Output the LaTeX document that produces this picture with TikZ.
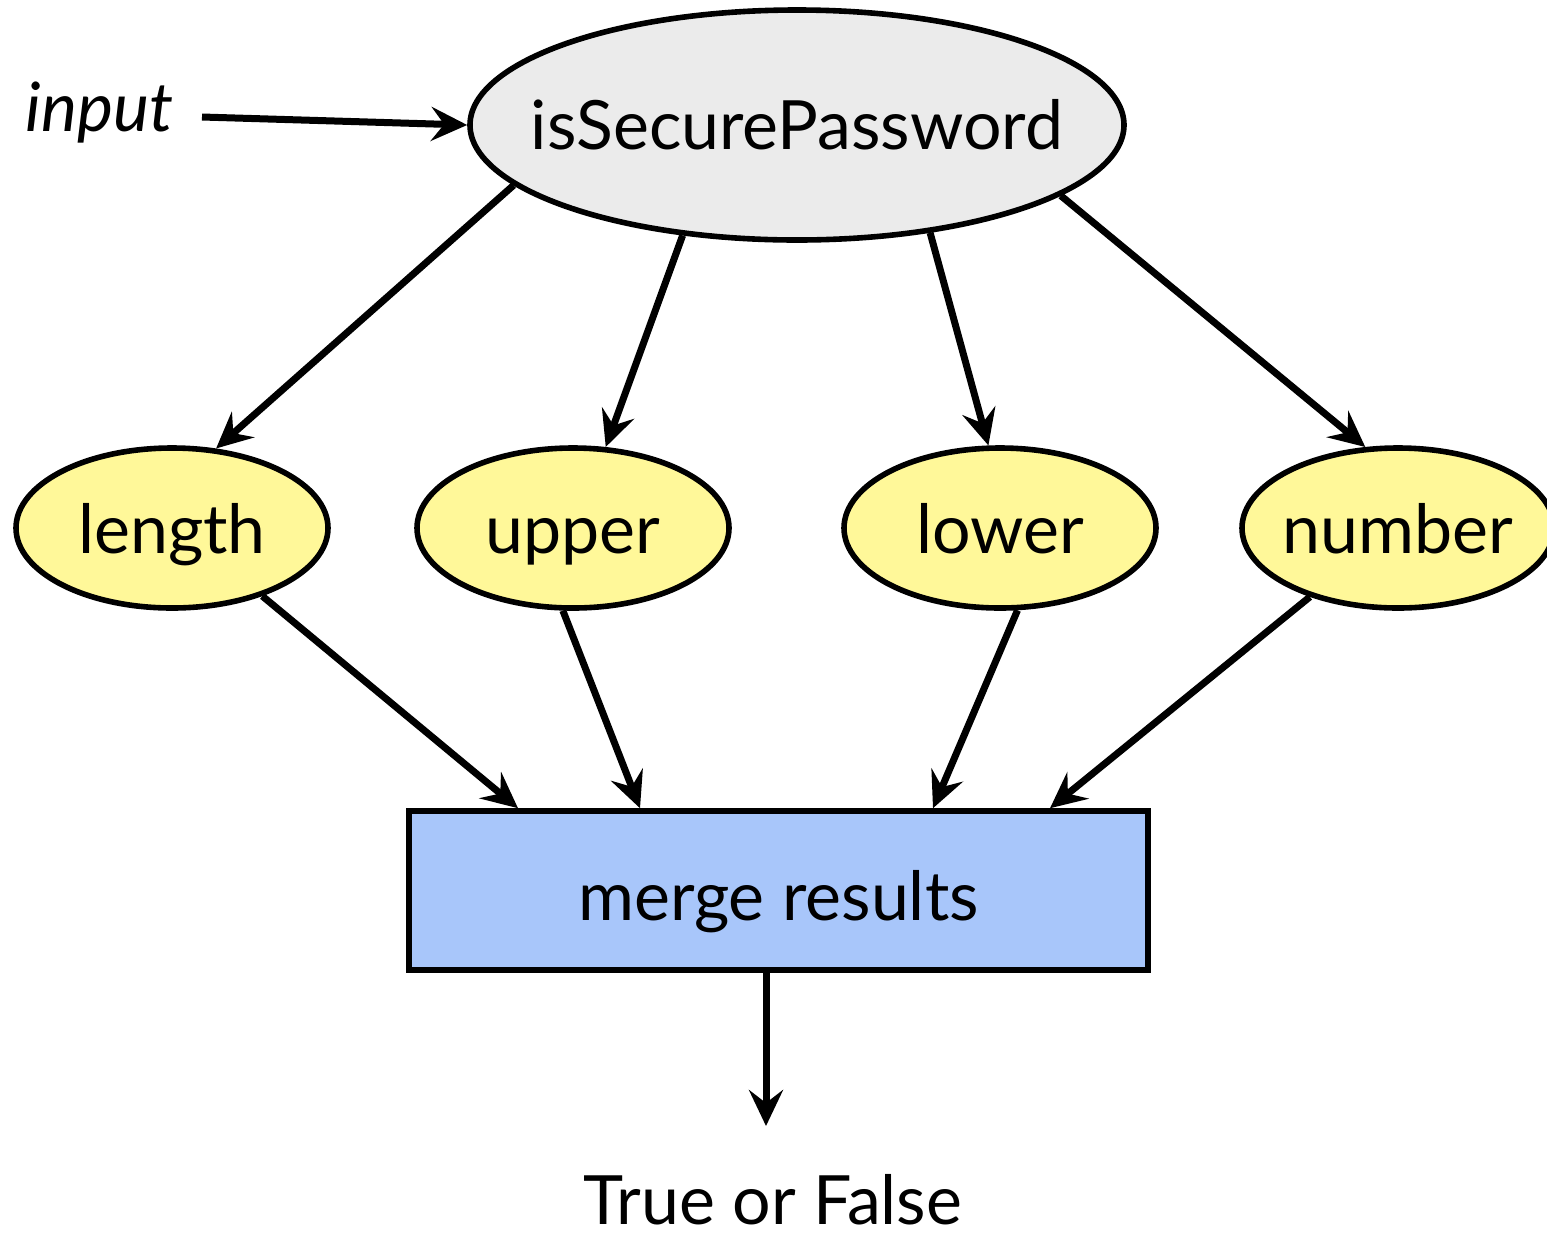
\documentclass[tikz,border=0pt]{standalone}
\usepackage{fontspec}
\setmainfont{Lato}
\usetikzlibrary{shapes.geometric,arrows.meta}
\definecolor{callgray}{RGB}{235,235,235}
\definecolor{checkyellow}{RGB}{255,248,153}
\definecolor{mergeblue}{RGB}{168,198,250}
% label set in a zero-width box so the ellipse keeps its given size
\newcommand{\zerowide}[1]{\makebox[0pt]{#1}}
\tikzset{
  lbl/.style={font=\fontsize{34}{40}\selectfont, text=black},
  boxline/.style={draw=black, line width=2.8pt, inner sep=0pt, lbl},
  callnode/.style={ellipse, boxline, fill=callgray,
    minimum width=327pt, minimum height=115pt, text height=24pt, text depth=0pt},
  checknode/.style={ellipse, boxline, fill=checkyellow,
    minimum width=156pt, minimum height=80pt, text height=25pt, text depth=0pt},
  mergenode/.style={rectangle, boxline, fill=mergeblue,
    minimum width=369.5pt, minimum height=79.5pt, text height=29.5pt, text depth=0pt},
  flow/.style={draw=black, line width=3.5pt, -{Stealth[length=18pt, width=17pt, inset=6.5pt]}}
}
\begin{document}
\begin{tikzpicture}[x=0.5pt, y=-0.5pt]
  \useasboundingbox (0,0) rectangle (1547,1233);
  \begin{scope}
    \clip (0,0) rectangle (1547,1233);

    % the function and the checks it runs
    \node[callnode] (top) at (797,125) {\zerowide{isSecurePassword}};
    \node[checknode] (length) at (172,528) {\zerowide{length}};
    \node[checknode] (upper) at (573,528) {\zerowide{upper}};
    \node[checknode] (lower) at (1000,528) {\zerowide{lower}};
    \node[checknode] (number) at (1398,528) {\zerowide{number}};
    \node[mergenode] (merge) at (778.5,890.5) {merge results};

    % input and result labels
    \node[lbl, font=\fontsize{34}{40}\selectfont\itshape, inner sep=0pt, anchor=base west] (input) at (25,131) {input};
    \node[lbl, inner sep=0pt, anchor=base] (result) at (773,1224) {True or False};
    \coordinate (inputout) at (202,117);
    \coordinate (resultin) at (766,1126);

    % input enters the function
    \draw[flow] (inputout) -- (top.180.5);

    % fan out to the checks
    \draw[flow] (top.192.8) -- (length.61);
    \draw[flow] (top.224.2) -- (upper.68);
    \draw[flow] (top.321.4) -- (lower.98);
    \draw[flow] (top.345.3) -- (number.112);

    % results collected in the merge step
    \draw[flow] (length.323) -- ([xshift=-130.25pt]merge.north);
    \draw[flow] (upper.263) -- ([xshift=-69.25pt]merge.north);
    \draw[flow] (lower.282) -- ([xshift=77.25pt]merge.north);
    \draw[flow] (number.218) -- ([xshift=135.75pt]merge.north);

    % final answer
    \draw[flow] ([xshift=-6.25pt]merge.south) -- (resultin);
  \end{scope}
\end{tikzpicture}
\end{document}
